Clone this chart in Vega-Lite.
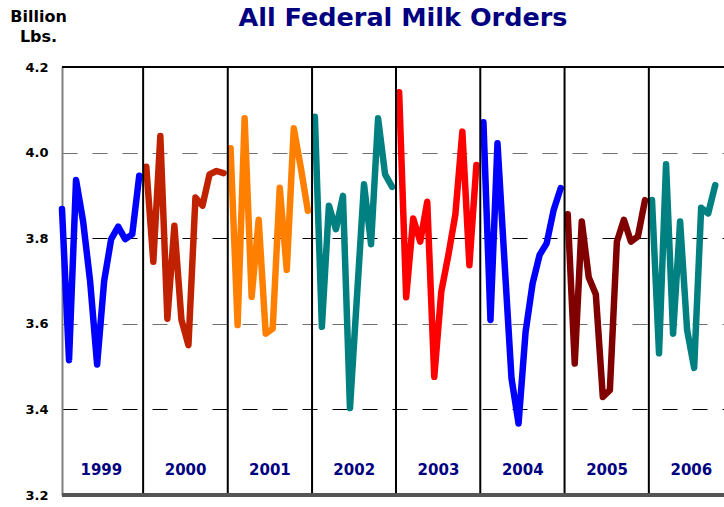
{
  "$schema": "https://vega.github.io/schema/vega-lite/v6.json",
  "width": 662,
  "height": 428,
  "autosize": {"type": "none"},
  "padding": {"left": 62, "top": 67, "right": 0, "bottom": 12},
  "background": "white",
  "config": {"view": {"stroke": null}},
  "title": {"text": "All Federal Milk Orders", "font": "DejaVu Sans", "fontSize": 25.5, "fontWeight": "bold", "color": "#000080", "anchor": "middle", "frame": "group", "baseline": "alphabetic", "offset": 0, "dy": 43, "dx": 10},
  "datasets": {
    "milk": [
      {"year": "1999", "t": 0, "v": 3.868}, {"year": "1999", "t": 1, "v": 3.515}, {"year": "1999", "t": 2, "v": 3.936}, {"year": "1999", "t": 3, "v": 3.84}, {"year": "1999", "t": 4, "v": 3.70}, {"year": "1999", "t": 5, "v": 3.505}, {"year": "1999", "t": 6, "v": 3.70}, {"year": "1999", "t": 7, "v": 3.798}, {"year": "1999", "t": 8, "v": 3.827}, {"year": "1999", "t": 9, "v": 3.798}, {"year": "1999", "t": 10, "v": 3.809}, {"year": "1999", "t": 11, "v": 3.946},
      {"year": "2000", "t": 12, "v": 3.967}, {"year": "2000", "t": 13, "v": 3.745}, {"year": "2000", "t": 14, "v": 4.039}, {"year": "2000", "t": 15, "v": 3.612}, {"year": "2000", "t": 16, "v": 3.829}, {"year": "2000", "t": 17, "v": 3.61}, {"year": "2000", "t": 18, "v": 3.55}, {"year": "2000", "t": 19, "v": 3.895}, {"year": "2000", "t": 20, "v": 3.876}, {"year": "2000", "t": 21, "v": 3.949}, {"year": "2000", "t": 22, "v": 3.957}, {"year": "2000", "t": 23, "v": 3.952},
      {"year": "2001", "t": 24, "v": 4.01}, {"year": "2001", "t": 25, "v": 3.597}, {"year": "2001", "t": 26, "v": 4.08}, {"year": "2001", "t": 27, "v": 3.663}, {"year": "2001", "t": 28, "v": 3.843}, {"year": "2001", "t": 29, "v": 3.577}, {"year": "2001", "t": 30, "v": 3.589}, {"year": "2001", "t": 31, "v": 3.918}, {"year": "2001", "t": 32, "v": 3.726}, {"year": "2001", "t": 33, "v": 4.057}, {"year": "2001", "t": 34, "v": 3.965}, {"year": "2001", "t": 35, "v": 3.864},
      {"year": "2002", "t": 36, "v": 4.084}, {"year": "2002", "t": 37, "v": 3.593}, {"year": "2002", "t": 38, "v": 3.876}, {"year": "2002", "t": 39, "v": 3.821}, {"year": "2002", "t": 40, "v": 3.899}, {"year": "2002", "t": 41, "v": 3.403}, {"year": "2002", "t": 42, "v": 3.665}, {"year": "2002", "t": 43, "v": 3.926}, {"year": "2002", "t": 44, "v": 3.786}, {"year": "2002", "t": 45, "v": 4.08}, {"year": "2002", "t": 46, "v": 3.949}, {"year": "2002", "t": 47, "v": 3.92},
      {"year": "2003", "t": 48, "v": 4.141}, {"year": "2003", "t": 49, "v": 3.662}, {"year": "2003", "t": 50, "v": 3.846}, {"year": "2003", "t": 51, "v": 3.792}, {"year": "2003", "t": 52, "v": 3.885}, {"year": "2003", "t": 53, "v": 3.476}, {"year": "2003", "t": 54, "v": 3.675}, {"year": "2003", "t": 55, "v": 3.76}, {"year": "2003", "t": 56, "v": 3.855}, {"year": "2003", "t": 57, "v": 4.049}, {"year": "2003", "t": 58, "v": 3.737}, {"year": "2003", "t": 59, "v": 3.971},
      {"year": "2004", "t": 60, "v": 4.071}, {"year": "2004", "t": 61, "v": 3.609}, {"year": "2004", "t": 62, "v": 4.022}, {"year": "2004", "t": 63, "v": 3.745}, {"year": "2004", "t": 64, "v": 3.472}, {"year": "2004", "t": 65, "v": 3.367}, {"year": "2004", "t": 66, "v": 3.581}, {"year": "2004", "t": 67, "v": 3.694}, {"year": "2004", "t": 68, "v": 3.761}, {"year": "2004", "t": 69, "v": 3.788}, {"year": "2004", "t": 70, "v": 3.866}, {"year": "2004", "t": 71, "v": 3.917},
      {"year": "2005", "t": 72, "v": 3.856}, {"year": "2005", "t": 73, "v": 3.507}, {"year": "2005", "t": 74, "v": 3.839}, {"year": "2005", "t": 75, "v": 3.708}, {"year": "2005", "t": 76, "v": 3.669}, {"year": "2005", "t": 77, "v": 3.429}, {"year": "2005", "t": 78, "v": 3.445}, {"year": "2005", "t": 79, "v": 3.792}, {"year": "2005", "t": 80, "v": 3.843}, {"year": "2005", "t": 81, "v": 3.792}, {"year": "2005", "t": 82, "v": 3.804}, {"year": "2005", "t": 83, "v": 3.889},
      {"year": "2006", "t": 84, "v": 3.889}, {"year": "2006", "t": 85, "v": 3.531}, {"year": "2006", "t": 86, "v": 3.973}, {"year": "2006", "t": 87, "v": 3.577}, {"year": "2006", "t": 88, "v": 3.839}, {"year": "2006", "t": 89, "v": 3.585}, {"year": "2006", "t": 90, "v": 3.497}, {"year": "2006", "t": 91, "v": 3.871}, {"year": "2006", "t": 92, "v": 3.858}, {"year": "2006", "t": 93, "v": 3.924}
    ],
    "panels": [
      {"year": "1999", "mid": 5.6, "end": 11.55},
      {"year": "2000", "mid": 17.6, "end": 23.6},
      {"year": "2001", "mid": 29.6, "end": 35.6},
      {"year": "2002", "mid": 41.6, "end": 47.55},
      {"year": "2003", "mid": 53.6, "end": 59.55},
      {"year": "2004", "mid": 65.6, "end": 71.55},
      {"year": "2005", "mid": 77.6, "end": 83.55},
      {"year": "2006", "mid": 89.6, "end": 95.55}
    ]
  },
  "layer": [
    {
      "data": {"name": "milk"},
      "mark": {"type": "line", "strokeWidth": 6.5, "strokeCap": "round", "strokeJoin": "round"},
      "encoding": {
        "x": {"field": "t", "type": "quantitative", "scale": {"domain": [0, 94.25], "nice": false, "zero": false}, "axis": null},
        "y": {"field": "v", "type": "quantitative", "scale": {"domain": [3.2, 4.2], "nice": false, "zero": false},
          "axis": {"values": [3.2, 3.4, 3.6, 3.8, 4.0, 4.2], "format": ".1f", "labelFont": "DejaVu Sans", "labelFontSize": 13, "labelFontWeight": "bold", "labelColor": "black", "labelPadding": 14, "ticks": false, "domainColor": "#808080", "domainWidth": 2, "grid": true, "gridDash": [15, 15], "gridColor": {"condition": {"test": "datum.value == 3.8 || datum.value == 3.4", "value": "#000000"}, "value": "#707070"}, "gridWidth": 1.2,
            "title": ["Billion", "Lbs."], "titleFont": "DejaVu Sans", "titleFontSize": 16, "titleFontWeight": "bold", "titleColor": "black", "titleAngle": 0, "titleAlign": "center", "titleBaseline": "alphabetic", "titleX": -24, "titleY": -46, "titleLineHeight": 20.5}},
        "color": {"field": "year", "type": "nominal", "scale": {"domain": ["1999", "2000", "2001", "2002", "2003", "2004", "2005", "2006"], "range": ["#0000FF", "#C02200", "#FF8000", "#008080", "#FF0000", "#0000FF", "#800000", "#008080"]}, "legend": null}
      }
    },
    {
      "data": {"name": "panels"},
      "transform": [{"filter": "datum.year != '2006'"}],
      "mark": {"type": "rule", "color": "black", "strokeWidth": 2},
      "encoding": {"x": {"field": "end", "type": "quantitative"}}
    },
    {
      "data": {"name": "panels"},
      "mark": {"type": "rule", "color": "black", "strokeWidth": 2},
      "encoding": {"y": {"datum": 4.2}}
    },
    {
      "data": {"name": "panels"},
      "mark": {"type": "rule", "color": "#555555", "strokeWidth": 3},
      "encoding": {"y": {"datum": 3.2}}
    },
    {
      "data": {"name": "panels"},
      "mark": {"type": "text", "font": "DejaVu Sans", "fontSize": 15, "fontWeight": "bold", "color": "#000080", "align": "center", "baseline": "middle"},
      "encoding": {"x": {"field": "mid", "type": "quantitative"}, "y": {"datum": 3.258}, "text": {"field": "year"}}
    }
  ]
}
